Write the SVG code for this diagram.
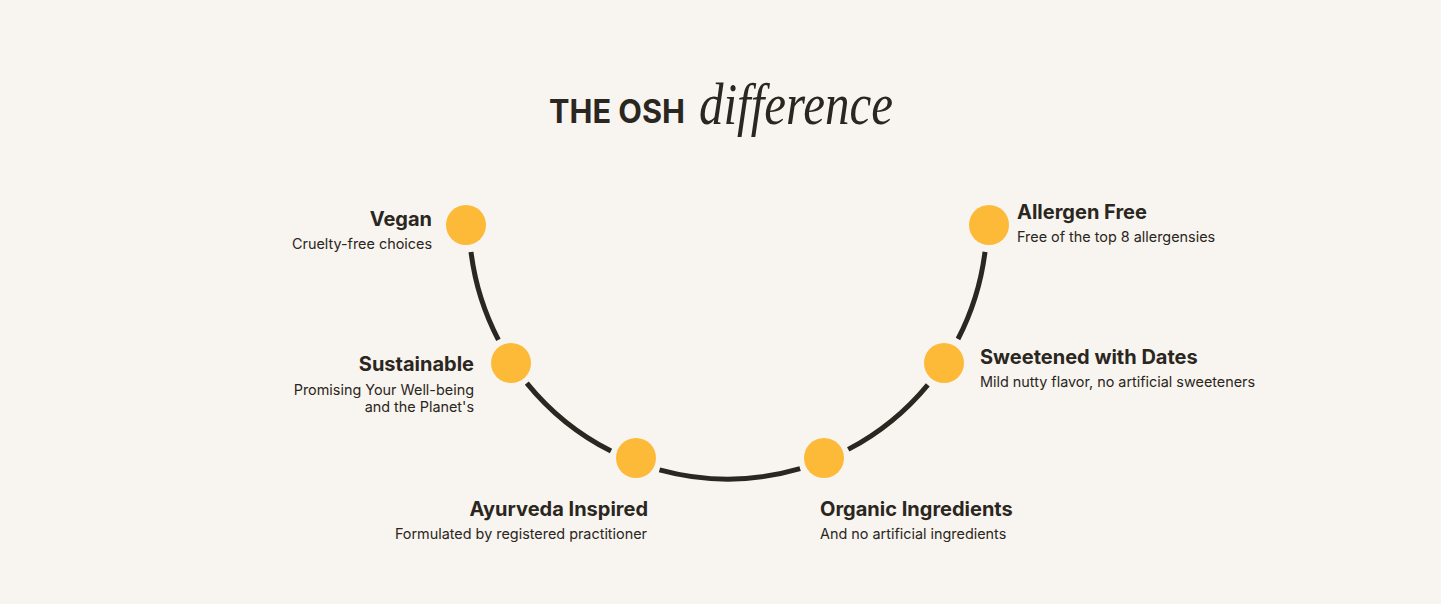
<svg xmlns="http://www.w3.org/2000/svg" width="1441" height="604" viewBox="0 0 1441 604">
<style>
.t{font-family:Inter,"Noto Sans",sans-serif;font-weight:700;font-size:20px;fill:#2a2620}
.s{font-family:Inter,"Noto Sans",sans-serif;font-weight:400;font-size:14.4px;fill:#2a2620}
.dot{fill:#FDBA38}
.arc{fill:none;stroke:#2a2620;stroke-width:5}
</style>
<rect width="1441" height="604" fill="#F8F4F0"/>
<g id="title">
<text x="549" y="123" font-family="Inter,'Noto Sans',sans-serif" font-weight="700" font-size="32" fill="#2a2620" textLength="136" lengthAdjust="spacingAndGlyphs">THE OSH</text>
<text x="699" y="124" font-family="'Liberation Serif',serif" font-style="italic" font-size="60" fill="#2a2620" textLength="194" lengthAdjust="spacingAndGlyphs">difference</text>
</g>
<g id="connectors">
<path class="arc" d="M471,252 A259,259 0 0 0 498.4,339.8"/>
<path class="arc" d="M526.8,383.1 A259,259 0 0 0 611,451.1"/>
<path class="arc" d="M659.5,469.8 A259,259 0 0 0 800.1,468.7"/>
<path class="arc" d="M848.2,449.4 A259,259 0 0 0 927.8,384.8"/>
<path class="arc" d="M958,339 A259,259 0 0 0 985,251.9"/>
</g>
<g id="vegan">
<circle class="dot" cx="466" cy="225" r="20"/>
<text class="t" x="432" y="226" text-anchor="end">Vegan</text>
<text class="s" x="432" y="249" text-anchor="end">Cruelty-free choices</text>
</g>
<g id="sustainable">
<circle class="dot" cx="511" cy="363" r="20"/>
<text class="t" x="474" y="371" text-anchor="end">Sustainable</text>
<text class="s" x="474" y="395" text-anchor="end">Promising Your Well-being</text>
<text class="s" x="474" y="412" text-anchor="end">and the Planet's</text>
</g>
<g id="ayurveda">
<circle class="dot" cx="636" cy="458" r="20"/>
<text class="t" x="648" y="516" text-anchor="end">Ayurveda Inspired</text>
<text class="s" x="647" y="539" text-anchor="end">Formulated by registered practitioner</text>
</g>
<g id="organic">
<circle class="dot" cx="824" cy="458" r="20"/>
<text class="t" x="820" y="516">Organic Ingredients</text>
<text class="s" x="820" y="539">And no artificial ingredients</text>
</g>
<g id="sweetened">
<circle class="dot" cx="944" cy="363" r="20"/>
<text class="t" x="980" y="364">Sweetened with Dates</text>
<text class="s" x="980" y="387">Mild nutty flavor, no artificial sweeteners</text>
</g>
<g id="allergen">
<circle class="dot" cx="989" cy="225" r="20"/>
<text class="t" x="1017" y="219">Allergen Free</text>
<text class="s" x="1017" y="242">Free of the top 8 allergensies</text>
</g>
</svg>
